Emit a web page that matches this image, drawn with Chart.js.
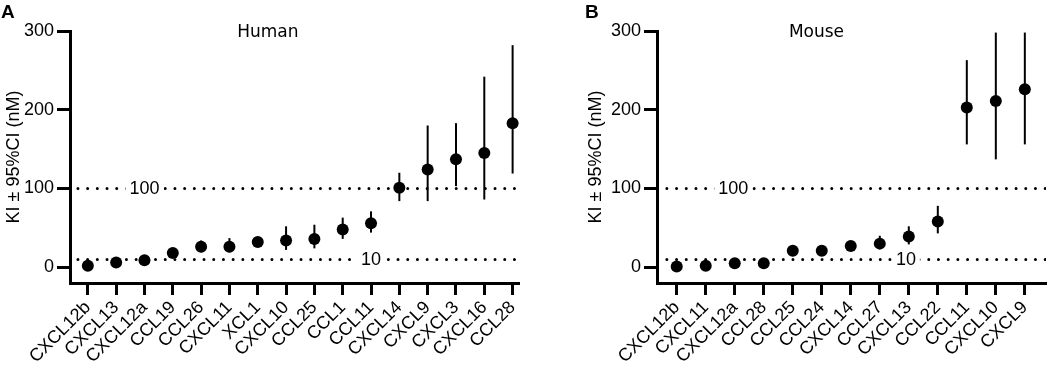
<!DOCTYPE html>
<html>
<head>
<meta charset="utf-8">
<script src="https://cdn.jsdelivr.net/npm/chart.js@4"></script>
<style>
  body { margin: 0; background: #fff; }
  .panel { position: absolute; top: 0; }
</style>
</head>
<body>
<canvas id="chartHuman" class="panel" width="530" height="367" style="left:0"></canvas>
<canvas id="chartMouse" class="panel" width="522" height="367" style="left:530px"></canvas>
<script>
// Human chemokines (panel A)
const humanLabels = ['CXCL12b', 'CXCL13', 'CXCL12a', 'CCL19', 'CCL26', 'CXCL11', 'XCL1', 'CXCL10',
    'CCL25', 'CCL1', 'CCL11', 'CXCL14', 'CXCL9', 'CXCL3', 'CXCL16', 'CCL28'];
const humanKi = [2, 6, 9, 18, 26, 26, 32, 34, 36, 48, 56, 101, 124, 137, 145, 183];
const humanLo = [2, 6, 9, 18, 19, 19, 32, 22, 24, 36, 44, 84, 84, 103, 86, 119];
const humanHi = [2, 6, 9, 18, 34, 37, 32, 52, 54, 63, 71, 120, 180, 183, 242, 282];

// Mouse chemokines (panel B)
const mouseLabels = ['CXCL12b', 'CXCL11', 'CXCL12a', 'CCL28', 'CCL25', 'CCL24', 'CXCL14', 'CCL27',
    'CXCL13', 'CCL22', 'CCL11', 'CXCL10', 'CXCL9'];
const mouseKi = [1, 2, 5, 5, 21, 21, 27, 30, 39, 58, 203, 211, 226];
const mouseLo = [1, 2, 5, 5, 21, 21, 27, 24, 29, 43, 156, 137, 156];
const mouseHi = [1, 2, 5, 5, 21, 21, 27, 40, 52, 78, 263, 298, 298];

const yTicks = [0, 100, 200, 300];
const refValues = [100, 10];

const fontFamily = "'Liberation Sans', Arial, sans-serif";

// error bars, dotted line labels, title and panel letter
const panelDecor = {
    id: 'panelDecor',
    beforeDatasetsDraw(chart, args, opts) {
        const ctx = chart.ctx;
        const x = chart.scales.x, y = chart.scales.y;
        ctx.save();
        ctx.strokeStyle = '#000';
        ctx.lineWidth = 2;
        opts.lo.forEach((lo, i) => {
            const px = x.getPixelForValue(i);
            ctx.beginPath();
            ctx.moveTo(px, y.getPixelForValue(lo));
            ctx.lineTo(px, y.getPixelForValue(opts.hi[i]));
            ctx.stroke();
        });
        ctx.restore();
    },
    afterDatasetsDraw(chart, args, opts) {
        const ctx = chart.ctx;
        const x = chart.scales.x, y = chart.scales.y;
        ctx.save();
        ctx.font = '18px ' + fontFamily;
        ctx.textAlign = 'center';
        ctx.textBaseline = 'middle';
        opts.refLabels.forEach(r => {
            const px = x.getPixelForValue(r.x);
            const py = y.getPixelForValue(r.y);
            const w = ctx.measureText(r.text).width + 8;
            ctx.fillStyle = '#fff';
            ctx.fillRect(px - w / 2, py - 8, w, 16);
            ctx.fillStyle = '#000';
            ctx.fillText(r.text, px, py + 1);
        });
        ctx.restore();
    },
    afterDraw(chart, args, opts) {
        const ctx = chart.ctx;
        const area = chart.chartArea;
        ctx.save();
        ctx.fillStyle = '#000';
        ctx.textBaseline = 'middle';
        ctx.textAlign = 'center';
        ctx.font = "17px 'DejaVu Sans', Verdana, sans-serif";
        ctx.fillText(opts.title, area.left + opts.titlePos * (area.right - area.left), area.top + 2);
        ctx.textAlign = 'left';
        ctx.textBaseline = 'top';
        ctx.font = "bold 19px " + fontFamily;
        ctx.fillText(opts.letter, opts.letterX, 3);
        ctx.restore();
    }
};

function makePanel(canvasId, labels, ki, lo, hi, setup) {
    const points = ki.map((v, i) => ({ x: i, y: v }));
    const xMin = setup.xMin, xMax = labels.length - 1 + setup.xEnd;

    const refSets = refValues.map(v => ({
        type: 'line',
        data: [{ x: setup.refStart, y: v }, { x: xMax, y: v }],
        showLine: true,
        borderColor: '#000',
        borderWidth: 3,
        borderDash: [0, 9.7],
        borderCapStyle: 'round',
        pointRadius: 0,
        order: 2
    }));

    const ctx = document.getElementById(canvasId).getContext('2d');
    return new Chart(ctx, {
        type: 'scatter',
        data: {
            datasets: [{
                data: points,
                backgroundColor: '#000',
                borderWidth: 0,
                pointRadius: 6,
                order: 0
            }, ...refSets]
        },
        options: {
            responsive: false,
            animation: false,
            devicePixelRatio: 1,
            layout: { padding: setup.padding },
            plugins: {
                legend: { display: false },
                tooltip: { enabled: false },
                panelDecor: {
                    lo: lo, hi: hi,
                    title: setup.title, titlePos: setup.titlePos,
                    letter: setup.letter, letterX: setup.letterX,
                    refLabels: setup.refLabels
                }
            },
            scales: {
                x: {
                    type: 'linear',
                    min: xMin,
                    max: xMax,
                    afterBuildTicks: s => { s.ticks = labels.map((_, i) => ({ value: i })); },
                    afterFit: s => { s.height = 84; },
                    grid: { drawOnChartArea: false, drawTicks: true, tickLength: 12, tickWidth: 3, tickColor: '#000' },
                    border: { display: true, color: '#000', width: 3 },
                    ticks: {
                        autoSkip: false,
                        minRotation: 45,
                        maxRotation: 45,
                        padding: 2,
                        color: '#000',
                        font: { family: fontFamily, size: 18 },
                        callback: v => labels[v]
                    }
                },
                y: {
                    min: -20,
                    max: 300,
                    afterBuildTicks: s => { s.ticks = yTicks.map(v => ({ value: v })); },
                    afterFit: s => { s.width = setup.yWidth; },
                    grid: { drawOnChartArea: false, drawTicks: true, tickLength: 13, tickWidth: 3, tickColor: '#000' },
                    border: { display: true, color: '#000', width: 3 },
                    ticks: { padding: 3, color: '#000', font: { family: fontFamily, size: 18 } },
                    title: {
                        display: true,
                        text: 'KI ± 95%CI (nM)',
                        color: '#000',
                        font: { family: fontFamily, size: 18 },
                        padding: { top: 3, bottom: 0 }
                    }
                }
            }
        },
        plugins: [panelDecor]
    });
}

document.addEventListener('DOMContentLoaded', () => {
    makePanel('chartHuman', humanLabels, humanKi, humanLo, humanHi, {
        xMin: -0.63, xEnd: 0.25, refStart: -0.35,
        padding: { left: 0, right: 7, top: 31, bottom: 0 },
        yWidth: 70,
        title: 'Human', titlePos: 0.44,
        letter: 'A', letterX: 1,
        refLabels: [{ text: '100', x: 2, y: 100 }, { text: '10', x: 10, y: 10 }]
    });
    makePanel('chartMouse', mouseLabels, mouseKi, mouseLo, mouseHi, {
        xMin: -0.68, xEnd: 0.73, refStart: -0.34,
        padding: { left: 52, right: 2, top: 31, bottom: 0 },
        yWidth: 75,
        title: 'Mouse', titlePos: 0.41,
        letter: 'B', letterX: 55,
        refLabels: [{ text: '100', x: 1.95, y: 100 }, { text: '10', x: 7.9, y: 10 }]
    });
});
</script>
</body>
</html>
